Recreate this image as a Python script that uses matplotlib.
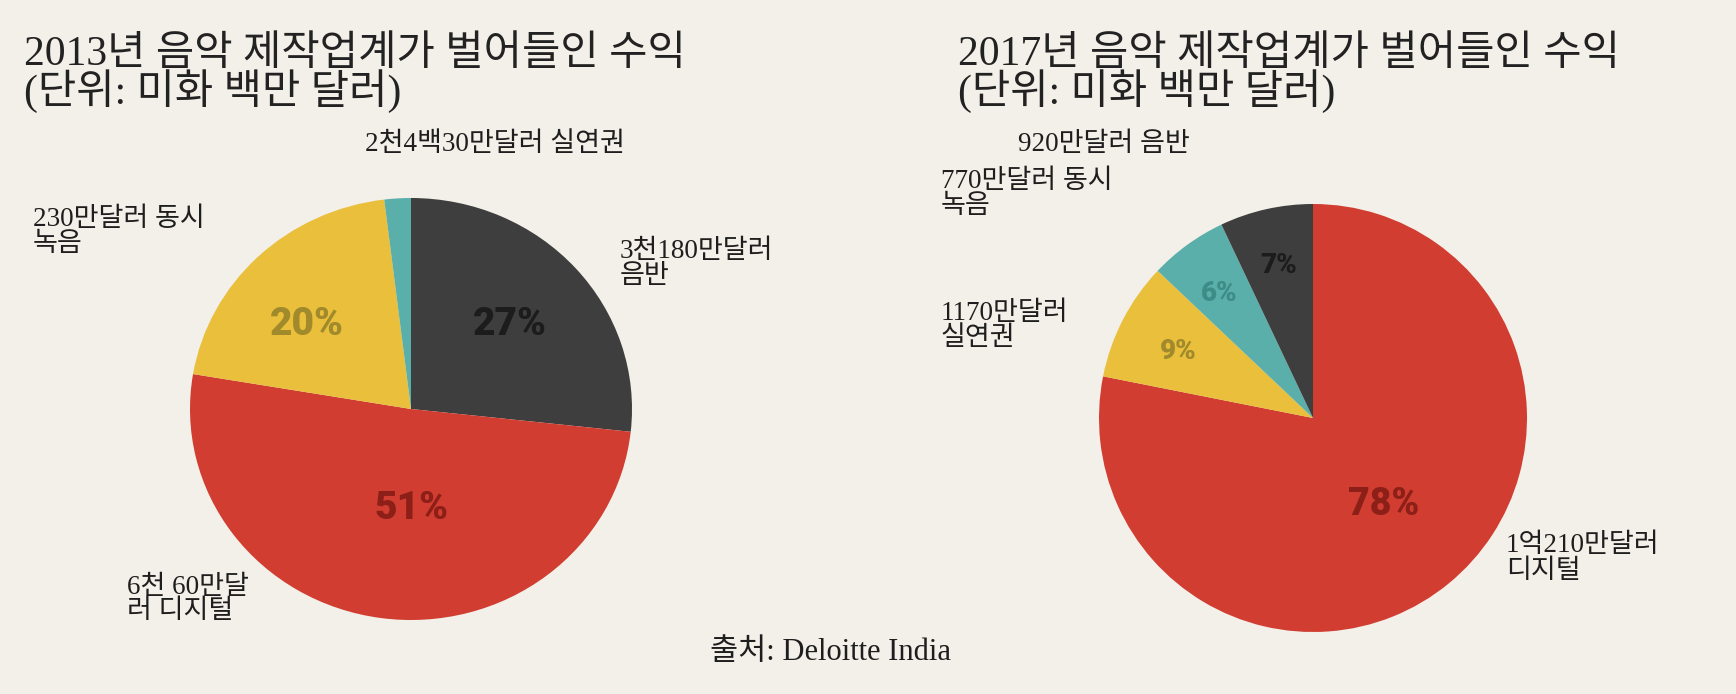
import matplotlib
matplotlib.use("Agg")
import matplotlib.pyplot as plt
import numpy as np

# ---------------- data ----------------
categories = ["음반", "디지털", "실연권", "동시 녹음"]
values_2013 = [31.8, 60.6, 24.3, 2.3]      # US$ million
values_2017 = [102.1, 11.7, 7.7, 9.2]      # digital, live, sync, records
cats_2017 = ["디지털", "실연권", "동시 녹음", "음반"]

titles = ["2013년 음악 제작업계가 벌어들인 수익\n(단위: 미화 백만 달러)",
          "2017년 음악 제작업계가 벌어들인 수익\n(단위: 미화 백만 달러)"]
labels_2013 = ["2천4백30만달러 실연권", "230만달러 동시\n녹음", "3천180만달러\n음반", "6천 60만달\n러 디지털"]
labels_2017 = ["920만달러 음반", "770만달러 동시\n녹음", "1170만달러\n실연권", "1억210만달러\n디지털"]
source = "출처: Deloitte India"

# ---------------- style ----------------
W, H = 1736, 694
BG = "#f3f0e9"
col = {"음반": "#3e3e3e", "디지털": "#d13d30", "실연권": "#e9bf3c", "동시 녹음": "#5aafab"}
pctcol = {"음반": "#1c1c1c", "디지털": "#8c1f17", "실연권": "#a08a2b", "동시 녹음": "#3e8c87"}
TXT = "#1e1e1e"
serif_kr = ["Liberation Serif", "Noto Sans CJK KR"]

fig = plt.figure(figsize=(W / 100, H / 100), dpi=100, facecolor=BG)
ov = fig.add_axes([0, 0, 1, 1], facecolor="none")
ov.set_xlim(0, W)
ov.set_ylim(H, 0)
ov.axis("off")


def pie(center, rx, ry, vals, cats, pct_r, pct_dang, pct_size):
    cx, cy = center
    ax = fig.add_axes([(cx - rx) / W, (H - cy - ry) / H, 2 * rx / W, 2 * ry / H])
    wedges, _ = ax.pie(vals, colors=[col[c] for c in cats], startangle=90,
                       counterclock=False, radius=1,
                       wedgeprops=dict(linewidth=0))
    ax.set_aspect("auto")
    ax.set_xlim(-1, 1)
    ax.set_ylim(-1, 1)
    ax.set_facecolor("none")
    tot = sum(vals)
    for w, v, c, r, da, fs in zip(wedges, vals, cats, pct_r, pct_dang, pct_size):
        if r is None:
            continue
        ang = np.deg2rad((w.theta1 + w.theta2) / 2 + da)
        ax.text(r * np.cos(ang), r * np.sin(ang), f"{round(100 * v / tot)}%",
                ha="center", va="center", fontsize=fs, fontweight="black",
                family="Roboto", color=pctcol[c])
    return ax


pie((411, 409), 221, 211, values_2013, categories,
    [0.60, 0.47, 0.62, None], [0, 8, 6, 0], [28, 28, 28, 0])
pie((1313, 418), 214, 214, values_2017, cats_2017,
    [0.52, 0.70, 0.73, 0.73], [0, 1, 1, 0], [27, 20, 20, 20])

# titles (baseline of the last line)
for x, t in zip([24, 958], titles):
    ov.text(x, 104, t, fontsize=30, family=serif_kr, color="#222222",
            ha="left", va="baseline", linespacing=0.85)


def put_labels(labels, pos):
    for lab, (x, y) in zip(labels, pos):
        for i, line in enumerate(lab.split("\n")):
            ov.text(x, y + i * 25, line, fontsize=19.5, family=serif_kr,
                    color=TXT, ha="left", va="center")


put_labels(labels_2013, [(365, 144), (33, 219), (620, 251), (127, 587)])
put_labels(labels_2017, [(1018, 144), (941, 181), (941, 313), (1506, 546)])

ov.text(830, 653, source, fontsize=22, family=serif_kr, color=TXT,
        ha="center", va="center")

fig.savefig("out.png", dpi=100, facecolor=BG)
